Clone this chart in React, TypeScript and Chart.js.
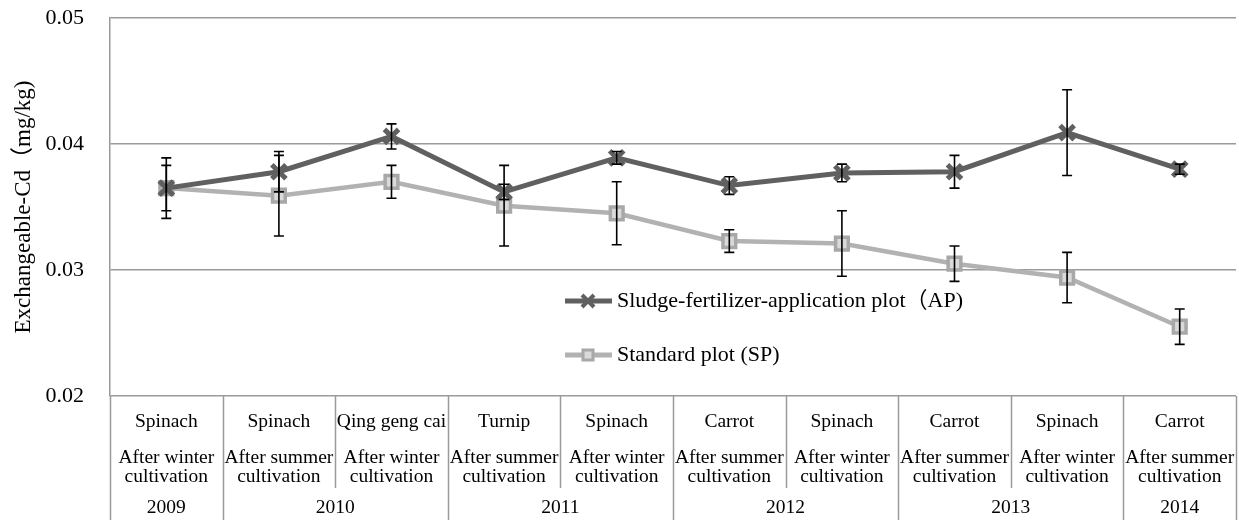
import React, { useEffect, useRef } from 'react';
import { Chart, registerables } from 'chart.js';

Chart.register(...registerables);

const crops = ['Spinach', 'Spinach', 'Qing geng cai', 'Turnip', 'Spinach', 'Carrot', 'Spinach', 'Carrot', 'Spinach', 'Carrot'];
const seasons = ['After winter', 'After summer', 'After winter', 'After summer', 'After winter', 'After summer', 'After winter', 'After summer', 'After winter', 'After summer'];
const seasonSuffix = 'cultivation';
const years = ['2009', '2010', '2011', '2012', '2013', '2014'];
const yearSpans = [1, 2, 2, 2, 2, 1];

const apValues = [0.0365, 0.0378, 0.0406, 0.0362, 0.0389, 0.0367, 0.0377, 0.0378, 0.0409, 0.0380];
const apErrors = [0.0024, 0.0016, 0.0010, 0.0006, 0.0005, 0.0007, 0.0007, 0.0013, 0.0034, 0.0004];
const spValues = [0.0365, 0.0359, 0.0370, 0.0351, 0.0345, 0.0323, 0.0321, 0.0305, 0.0294, 0.0255];
const spErrors = [0.0018, 0.0032, 0.0013, 0.0032, 0.0025, 0.0009, 0.0026, 0.0014, 0.0020, 0.0014];

const yMin = 0.02;
const yMax = 0.05;
const yStep = 0.01;

const apLabel = 'Sludge-fertilizer-application plot（AP)';
const spLabel = 'Standard plot (SP)';
const yTitle = 'Exchangeable-Cd（mg/kg)';

const FONT = "'Liberation Serif', 'Times New Roman', 'Noto Sans CJK SC', serif";
const AP_COLOR = '#606060';
const SP_COLOR = '#b2b2b2';
const SP_FILL = '#dadada';
const GRID = '#9a9a9a';

const errorBarPlugin = {
  id: 'errorBars',
  afterDatasetsDraw(chart: any) {
    const ctx = chart.ctx;
    const ys = chart.scales.y;
    const sets = [apErrors, spErrors];
    ctx.save();
    ctx.strokeStyle = '#000';
    ctx.lineWidth = 1.6;
    chart.data.datasets.forEach((ds: any, i: number) => {
      const meta = chart.getDatasetMeta(i);
      meta.data.forEach((pt: any, j: number) => {
        const v = ds.data[j];
        const e = sets[i][j];
        const x = pt.x;
        const y1 = ys.getPixelForValue(v + e);
        const y2 = ys.getPixelForValue(v - e);
        ctx.beginPath();
        ctx.moveTo(x, y1);
        ctx.lineTo(x, y2);
        ctx.moveTo(x - 5, y1);
        ctx.lineTo(x + 5, y1);
        ctx.moveTo(x - 5, y2);
        ctx.lineTo(x + 5, y2);
        ctx.stroke();
      });
    });
    ctx.restore();
  },
};

const tablePlugin = {
  id: 'categoryTable',
  afterDraw(chart: any) {
    const ctx = chart.ctx;
    const xs = chart.scales.x;
    const area = chart.chartArea;
    const n = crops.length;
    const c0 = xs.getPixelForValue(0);
    const c1 = xs.getPixelForValue(1);
    const w = c1 - c0;
    const boundary = (k: number) => c0 - w / 2 + k * w;
    const groupEdges = new Set<number>();
    let acc = 0;
    groupEdges.add(0);
    yearSpans.forEach((s) => { acc += s; groupEdges.add(acc); });
    ctx.save();
    ctx.strokeStyle = GRID;
    ctx.lineWidth = 1.5;
    for (let k = 0; k <= n; k++) {
      const x = Math.round(boundary(k)) + 0.5;
      ctx.beginPath();
      ctx.moveTo(x, area.bottom);
      ctx.lineTo(x, groupEdges.has(k) ? chart.height : area.bottom + 92);
      ctx.stroke();
    }
    ctx.fillStyle = '#000';
    ctx.textAlign = 'center';
    ctx.textBaseline = 'middle';
    ctx.font = `19.5px ${FONT}`;
    for (let i = 0; i < n; i++) {
      const cx = xs.getPixelForValue(i);
      ctx.fillText(crops[i], cx, area.bottom + 26);
      ctx.fillText(seasons[i], cx, area.bottom + 62);
      ctx.fillText(seasonSuffix, cx, area.bottom + 81);
    }
    let start = 0;
    years.forEach((yr, g) => {
      const x1 = boundary(start);
      const x2 = boundary(start + yearSpans[g]);
      ctx.fillText(yr, (x1 + x2) / 2, area.bottom + 112);
      start += yearSpans[g];
    });
    ctx.restore();
  },
};

const legendPlugin = {
  id: 'innerLegend',
  afterDraw(chart: any) {
    const ctx = chart.ctx;
    const items = [
      { label: apLabel, color: AP_COLOR, y: 301, kind: 'x' },
      { label: spLabel, color: SP_COLOR, y: 355, kind: 'sq' },
    ];
    ctx.save();
    items.forEach((it) => {
      ctx.strokeStyle = it.color;
      ctx.lineWidth = 5;
      ctx.beginPath();
      ctx.moveTo(565, it.y);
      ctx.lineTo(612, it.y);
      ctx.stroke();
      const mx = 588;
      if (it.kind === 'x') {
        ctx.lineWidth = 4;
        ctx.beginPath();
        ctx.moveTo(mx - 6, it.y - 6);
        ctx.lineTo(mx + 6, it.y + 6);
        ctx.moveTo(mx + 6, it.y - 6);
        ctx.lineTo(mx - 6, it.y + 6);
        ctx.stroke();
      } else {
        ctx.fillStyle = SP_FILL;
        ctx.lineWidth = 3;
        ctx.fillRect(mx - 5, it.y - 5, 10, 10);
        ctx.strokeStyle = '#a8a8a8';
        ctx.strokeRect(mx - 5, it.y - 5, 10, 10);
      }
      ctx.fillStyle = '#000';
      ctx.font = `22px ${FONT}`;
      ctx.textAlign = 'left';
      ctx.textBaseline = 'middle';
      ctx.fillText(it.label, 617, it.y);
    });
    ctx.restore();
  },
};

export default function App() {
  const ref = useRef<HTMLCanvasElement | null>(null);
  useEffect(() => {
    document.body.style.margin = '0';
    const canvas = ref.current;
    if (!canvas) return;
    const chart = new Chart(canvas, {
      type: 'line',
      data: {
        labels: crops.map((c, i) => `${c}-${i}`),
        datasets: [
          {
            label: apLabel,
            data: apValues,
            borderColor: AP_COLOR,
            backgroundColor: AP_COLOR,
            borderWidth: 5,
            pointStyle: 'crossRot',
            pointRadius: 10,
            pointBorderWidth: 5,
            pointBorderColor: AP_COLOR,
            pointHoverRadius: 10,
            tension: 0,
          },
          {
            label: spLabel,
            data: spValues,
            borderColor: SP_COLOR,
            backgroundColor: SP_FILL,
            borderWidth: 4.5,
            pointStyle: 'rect',
            pointRadius: 9,
            pointBorderWidth: 3.5,
            pointBorderColor: '#a8a8a8',
            pointBackgroundColor: SP_FILL,
            pointHoverRadius: 9,
            tension: 0,
          },
        ],
      },
      options: {
        responsive: false,
        animation: false,
        devicePixelRatio: 1,
        layout: { autoPadding: false, padding: { top: 18, right: 3, bottom: 124, left: 0 } },
        plugins: {
          legend: { display: false },
          tooltip: { enabled: false },
        },
        scales: {
          x: {
            type: 'category',
            display: false,
            offset: true,
          },
          y: {
            min: yMin,
            max: yMax,
            afterFit: (scale: any) => { scale.width = 110; },
            ticks: {
              stepSize: yStep,
              padding: 3,
              color: '#000',
              font: { family: FONT, size: 22 },
              callback: (v: any) => Number(v).toFixed(2),
            },
            grid: {
              color: GRID,
              lineWidth: 1.5,
              drawTicks: true,
              tickLength: 23,
              tickColor: 'rgba(0,0,0,0)',
            },
            border: { display: true, color: GRID, width: 1.5 },
            title: {
              display: true,
              text: yTitle,
              color: '#000',
              font: { family: FONT, size: 23 },
              padding: { top: 10, bottom: 0 },
            },
          },
        },
      },
      plugins: [errorBarPlugin, tablePlugin, legendPlugin],
    });
    return () => chart.destroy();
  }, []);
  return (
    <div style={{ position: 'absolute', left: 0, top: 0, width: 1239, height: 520 }}>
      <canvas ref={ref} width={1239} height={520} />
    </div>
  );
}
